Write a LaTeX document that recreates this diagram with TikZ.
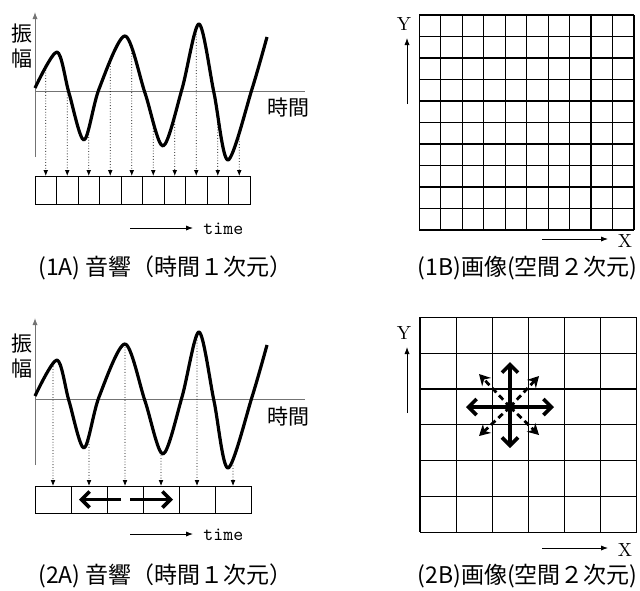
\documentclass[tikz,border=0pt]{standalone}
\usepackage{fontspec}
\usepackage{tikz}
\usetikzlibrary{arrows.meta, intersections, positioning}
\newfontfamily\cjk{Noto Sans CJK JP}
\newcommand\wavecurve{plot[smooth, tension=0.5] coordinates {(35,88) (57,52) (69,93) (84,140) (99,89) (125,36) (145,93) (163,146) (182,89) (199,24) (214,93) (228,160) (252,89) (267,37)}}

\begin{document}
\begin{tikzpicture}[x=0.5pt, y=-0.5pt,
    axis/.style={draw=black!55, line width=0.5pt},
    axarrow/.style={axis, -{Latex[length=3.5pt,width=2.6pt]}},
    dirarrow/.style={line width=0.45pt, -{Latex[length=3.5pt,width=2.6pt]}},
    wave/.style={line width=1.6pt, line join=round},
    cell/.style={draw, line width=0.5pt, inner sep=0pt, outer sep=0pt},
    tap/.style={densely dotted, line width=0.4pt, -{Latex[length=3pt,width=2.4pt]}},
    gridline/.style={line width=0.6pt},
    push/.style={line width=1.8pt, -{Straight Barb[length=4pt,width=8pt]}},
    slant/.style={line width=1.4pt, dash pattern=on 3pt off 2pt, -{Stealth[length=5.5pt,width=6pt]}},
    cjklabel/.style={font=\cjk\fontsize{10.5}{12.5}\selectfont, inner sep=0pt},
    caption/.style={font=\cjk\fontsize{11.5}{13}\selectfont, inner sep=0pt},
    ttlabel/.style={font=\ttfamily\fontsize{9.5}{11}\selectfont, inner sep=0pt},
    xylabel/.style={font=\fontsize{9.5}{10}\selectfont, inner sep=0pt}]
\useasboundingbox (0,0) rectangle (640,590);

% (1A) sound, 10 samples
\draw[axarrow] (35,157) coordinate (o1) -- (35,12) coordinate (y1);
\draw[axis] (o1 |- 0,91) -- (305,91) coordinate (x1);
\node[cjklabel, align=center] (amp1) at (22,46) {振\\幅};
\node[cjklabel] (tlab1) at (288,108) {時間};
\draw[wave, name path global=wave1] \wavecurve;
\foreach \i in {1,...,10}
  \node[cell, minimum width=10.75pt, minimum height=14pt] (s\i) at (35+21.5*\i-10.75,190) {};
\foreach \i in {1,...,10}{
  \path[name path=probe] (s\i.north) -- ++(0,-190);
  \draw[tap, name intersections={of=wave1 and probe, by=hit}] (hit) -- (s\i.north);
}
\draw[dirarrow] (130,228) coordinate (ta1) -- (193,228) coordinate (tb1);
\node[ttlabel, anchor=west] (time1) at (203,229) {time};
\node[caption, anchor=west] (cap1a) at (38,268) {(1A) 音響（時間１次元）};

% (1B) image, 10 x 10
\foreach \k in {0,...,10}{
  \draw[gridline] (419.3+\k*21.47,15) -- ++(0,215);
  \draw[gridline] (419.3,15+\k*21.5) -- ++(214.7,0);
}
\node[xylabel] (ylab1) at (404,24) {Y};
\draw[dirarrow] (407,104) coordinate (ya1) -- (407,38) coordinate (yb1);
\draw[dirarrow] (542,239) coordinate (xa1) -- (608,239) coordinate (xb1);
\node[xylabel] (xlab1) at (625,241) {X};
\node[caption, anchor=east] (cap1b) at (638,268) {(1B)画像(空間２次元)};

% (2A) sound, 6 samples
\begin{scope}[shift={(0,308)}]
\draw[axarrow] (35,157) coordinate (o2) -- (35,10) coordinate (y2);
\draw[axis] (o2 |- 0,91) -- (305,91) coordinate (x2);
\node[cjklabel, align=center] (amp2) at (22,48) {振\\幅};
\node[cjklabel] (tlab2) at (288,109) {時間};
\draw[wave, name path global=wave2] \wavecurve;
\end{scope}
\foreach \i in {1,...,6}
  \node[cell, minimum width=18pt, minimum height=13.5pt] (t\i) at (35+36*\i-18,499.5) {};
\foreach \i in {1,...,6}{
  \path[name path=probe] (t\i.north) -- ++(0,-190);
  \draw[tap, name intersections={of=wave2 and probe, by=hit}] (hit) -- (t\i.north);
}
\draw[push] ([xshift=-2pt]t3.center) -- ([xshift=-5pt]t2.center);
\draw[push] ([xshift=2.6pt]t3.center) -- ([xshift=6pt]t4.center);
\draw[dirarrow] (130,534) coordinate (ta2) -- (193,534) coordinate (tb2);
\node[ttlabel, anchor=west] (time2) at (203,535) {time};
\node[caption, anchor=west] (cap2a) at (38,576) {(2A) 音響（時間１次元）};

% (2B) image, 6 x 6
\foreach \k in {0,...,6}{
  \draw[gridline] (420+\k*36.1,317.3) -- ++(0,215);
  \draw[gridline] (420,317.3+\k*35.83) -- ++(216.6,0);
}
\coordinate (ctr) at (510,407);
\foreach \dx/\dy in {0/-45, 0/41, -44/0, 44/0}
  \draw[push] (ctr) -- ++(\dx,\dy);
\foreach \dx/\dy in {-31/-33, 29/-31, -31/29, 29/28}
  \draw[slant] (ctr) -- ++(\dx,\dy);
\node[xylabel] (ylab2) at (404,333) {Y};
\draw[dirarrow] (407,413) coordinate (ya2) -- (407,347) coordinate (yb2);
\draw[dirarrow] (542,548) coordinate (xa2) -- (608,548) coordinate (xb2);
\node[xylabel] (xlab2) at (625,550) {X};
\node[caption, anchor=east] (cap2b) at (638,576) {(2B)画像(空間２次元)};
\end{tikzpicture}
\end{document}
